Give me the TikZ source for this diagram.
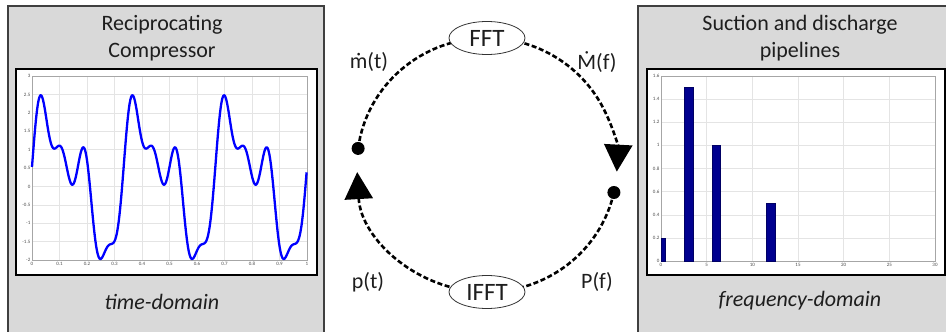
\documentclass[tikz,border=0pt]{standalone}
\usepackage{fontspec}
\setmainfont{Carlito}
\usetikzlibrary{arrows.meta,shapes.geometric,calc}
\definecolor{panelgray}{HTML}{D9D9D9}
\definecolor{panelline}{HTML}{3F3F3F}
\definecolor{barblue}{rgb}{0,0,0.56}
\definecolor{txt}{HTML}{1E1E1E}
\definecolor{gridc}{HTML}{E4E4E4}
\pgfdeclarelayer{bg}
\pgfsetlayers{bg,main}
\tikzset{
  panel/.style={draw=panelline,line width=1.3pt,fill=panelgray},
  plotframe/.style={draw=black,line width=1.6pt,fill=white},
  axesbox/.style={draw=black!35,line width=0.5pt},
  gridline/.style={draw=gridc,line width=0.5pt},
  title/.style={text=txt,align=center,font=\fontsize{22}{27}\selectfont},
  domainlbl/.style={text=txt,font=\fontsize{22}{27}\selectfont\itshape},
  ticklbl/.style={text=black!70,font=\fontsize{5}{6}\selectfont,inner sep=1pt},
  fnode/.style={ellipse,draw=black!80,line width=0.8pt,fill=white,minimum width=76pt,
    minimum height=33pt,inner sep=0pt,text=txt,font=\fontsize{25}{28}\selectfont},
  sig/.style={text=txt,font=\fontsize{22}{26}\selectfont},
  blob/.style={circle,fill=black,minimum size=13pt,inner sep=0pt},
  flow/.style={draw=black,line width=2.6pt,dash pattern=on 5pt off 2.6pt},
  flowtip/.style={-{Triangle[length=27pt,width=28pt]}},
  bar/.style={fill=barblue,draw=barblue!70!black,line width=0.4pt}
}
\begin{document}
\begin{tikzpicture}[x=1pt,y=-1pt]
\useasboundingbox (0,0) rectangle (946,332);
\clip (0,0) rectangle (946,332);

% ---------- left panel: compressor, time domain ----------
\draw[panel] (8,6) rectangle (324,350);
\node[title] (ltitle) at (162,38.5) {Reciprocating\\Compressor};
\node[domainlbl] (ldomain) at (162,302) {time-domain};
\draw[plotframe] (16,69) rectangle (317,275);
\foreach \i in {0,...,10} {
  \draw[gridline] (32+27.5*\i,76) -- (32+27.5*\i,260);
  \draw[gridline] (32,76+18.4*\i) -- (307,76+18.4*\i);
}
\draw[axesbox] (32,76) rectangle (307,260);
\foreach \v [count=\j from 0] in {3,2.5,2,1.5,1,0.5,0,-0.5,-1,-1.5,-2}
  \node[ticklbl,anchor=east] (ly\j) at (31.5,76+18.4*\j) {\v};
\foreach \v [count=\i from 0] in {0,0.1,0.2,0.3,0.4,0.5,0.6,0.7,0.8,0.9,1}
  \node[ticklbl,anchor=north] (lx\i) at (32+27.5*\i,261) {\v};
\draw[blue,line width=2.3pt,line join=round,smooth]
  plot[domain=0:1,samples=400,variable=\t]
  ({32+275*\t},{186.4-36.8*(0.2+1.5*sin(1080*\t)+sin(2160*\t+30)+0.5*sin(4320*\t-20))});

% ---------- right panel: pipelines, frequency domain ----------
\draw[panel] (638,6) rectangle (960,350);
\node[title] (rtitle) at (800,38.5) {Suction and discharge\\pipelines};
\node[domainlbl] (rdomain) at (800,301) {frequency-domain};
\draw[plotframe] (647,69) rectangle (945,275);
\foreach \i in {0,...,6}
  \draw[gridline] (661+45.67*\i,76) -- (661+45.67*\i,261);
\foreach \j in {0,...,8}
  \draw[gridline] (661,261-23.125*\j) -- (935,261-23.125*\j);
\draw[axesbox] (661,76) rectangle (935,261);
\foreach \v [count=\j from 0] in {0,0.2,0.4,0.6,0.8,1,1.2,1.4,1.6}
  \node[ticklbl,anchor=east] (ry\j) at (660.5,261-23.125*\j) {\v};
\foreach \v [count=\i from 0] in {0,5,10,15,20,25,30}
  \node[ticklbl,anchor=north] (rx\i) at (661+45.67*\i,262) {\v};
\draw[bar] (661,261) rectangle (665,261-0.2*115.6);
\draw[bar] (684.3,261) rectangle (692.7,261-1.5*115.6);
\draw[bar] (711.7,261) rectangle (720.1,261-1.0*115.6);
\draw[bar] (766.6,261) rectangle (775.0,261-0.5*115.6);

% ---------- transform cycle ----------
\coordinate (c) at (487,165);
\node[fnode] (fft) at ($(c)+(270:130 and 127)$) {FFT};
\node[fnode] (ifft) at ($(c)+(90:130 and 127)$) {IFFT};
\node[blob] (ldot) at ($(c)+(187.5:130 and 127)$) {};
\node[blob] (rdot) at ($(c)+(12.5:130 and 127)$) {};
\node[sig] (mt) at (369,62) {ṁ(t)};
\node[sig] (Mf) at (597,62) {Ṁ(f)};
\node[sig] (pt) at (368,282) {p(t)};
\node[sig] (Pf) at (597,282) {P(f)};
\begin{pgfonlayer}{bg}
  \draw[flow] (ldot.center) arc[start angle=187.5,end angle=270,x radius=130,y radius=127];
  \draw[flow,flowtip] (fft.center) arc[start angle=270,end angle=363,x radius=130,y radius=127];
  \draw[flow] (rdot.center) arc[start angle=12.5,end angle=90,x radius=130,y radius=127];
  \draw[flow,flowtip] (ifft.center) arc[start angle=90,end angle=176.8,x radius=130,y radius=127];
\end{pgfonlayer}
\end{tikzpicture}
\end{document}
